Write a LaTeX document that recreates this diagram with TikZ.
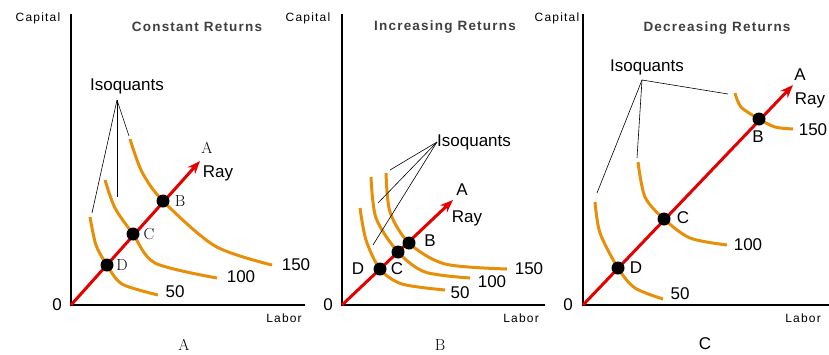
\documentclass[tikz,border=0pt]{standalone}
\usepackage{fontspec}
\setsansfont{Liberation Sans}
\usetikzlibrary{arrows.meta,calc}
\definecolor{IsoClr}{rgb}{0.91,0.56,0.04}
\definecolor{RayClr}{rgb}{0.89,0,0}
\definecolor{TitleClr}{rgb}{0.25,0.25,0.25}

\tikzset{
  axis/.style={line width=2pt,color=black},
  iso/.style={line width=3pt,color=IsoClr,line cap=butt},
  ray/.style={line width=3pt,color=RayClr,-{Stealth[length=13pt,width=10pt]}},
  dot/.style={circle,fill=black,inner sep=0pt,minimum width=13pt,minimum height=12pt},
  lead/.style={line width=0.6pt,color=black},
  lbl/.style={font=\sffamily\fontsize{17}{17}\selectfont,inner sep=0pt},
  ax/.style={font=\sffamily\fontsize{12}{12}\selectfont\addfontfeature{LetterSpace=10},inner sep=0pt},
  ttl/.style={font=\sffamily\bfseries\fontsize{13.5}{13.5}\selectfont\addfontfeature{LetterSpace=9},color=TitleClr,inner sep=0pt},
  pt/.style={font=\fontsize{16}{16}\selectfont,inner sep=0pt}
}

\begin{document}
\begin{tikzpicture}[x=1pt,y=-1pt]
\useasboundingbox[fill=white] (0,0) rectangle (829,354);

% panel A: constant returns
\coordinate (OA) at (71,305);
\draw[axis] (71,14) -- (OA) -- (305,305);
\node[ax] (capA) at (38,18) {Capital};
\node[ax] (labA) at (284,318) {Labor};
\node[lbl] (zeroA) at (57,305) {0};
\node[ttl] (titA) at (197,27) {Constant Returns};
\node[pt] (capnA) at (184,345) {A};

\draw[iso] plot[smooth] coordinates {(90,217) (96,245) (107,265) (122,284) (158,295)};
\draw[iso] plot[smooth] coordinates {(105,180) (115,208) (133,234) (155,263) (217,278)};
\draw[iso] plot[smooth] coordinates {(130,139) (142,172) (163,201) (215,246) (272,265)};
\node[lbl] (n50A) at (175,292) {50};
\node[lbl] (n100A) at (241,277) {100};
\node[lbl] (n150A) at (296,265) {150};

\coordinate (rayA) at (200,161);
\draw[ray] (OA) -- (rayA);
\node[pt] (tipA) at (207,148) {A};
\node[lbl] (rayAl) at (218,173) {Ray};
\node[dot] (DA) at (107,265) {};
\node[dot] (CA) at (133,234) {};
\node[dot] (BA) at (163,201) {};
\node[pt] (lDA) at (122,265) {D};
\node[pt] (lCA) at (149,234) {C};
\node[pt] (lBA) at (180,201) {B};

\node[lbl] (isoA) at (127,86) {Isoquants};
\coordinate (hubA) at (117,100);
\draw[lead] (hubA) -- (92,213);
\draw[lead] (hubA) -- (117,197);
\draw[lead] (hubA) -- (129,136);

% panel B: increasing returns
\coordinate (OB) at (342,305);
\draw[axis] (342,14) -- (OB) -- (545,305);
\node[ax] (capB) at (308,18) {Capital};
\node[ax] (labB) at (521,318) {Labor};
\node[lbl] (zeroB) at (328,305) {0};
\node[ttl] (titB) at (445,27) {Increasing Returns};
\node[pt] (capnB) at (440,345) {B};

\draw[iso] plot[smooth] coordinates {(360,208) (366,240) (380,269) (402,284) (445,290)};
\draw[iso] plot[smooth] coordinates {(371,177) (376,218) (398,252) (425,272) (470,278)};
\draw[iso] plot[smooth] coordinates {(386,173) (390,212) (409,243) (445,264) (507,269)};
\node[lbl] (n50B) at (460,293) {50};
\node[lbl] (n100B) at (492,282) {100};
\node[lbl] (n150B) at (529,269) {150};

\coordinate (rayB) at (453,200);
\draw[ray] (OB) -- (rayB);
\node[lbl] (tipB) at (462,190) {A};
\node[lbl] (rayBl) at (467,218) {Ray};
\node[dot] (DB) at (380,269) {};
\node[dot] (CB) at (398,252) {};
\node[dot] (BB) at (409,243) {};
\node[lbl] (lDB) at (358,269) {D};
\node[lbl] (lCB) at (397,269) {C};
\node[lbl] (lBB) at (430,241) {B};

\node[lbl,anchor=west] (isoB) at (437,142) {Isoquants};
\coordinate (hubB) at (437,142);
\draw[lead] (hubB) -- (390,170);
\draw[lead] (hubB) -- (378,203);
\draw[lead] (hubB) -- (373,245);

% panel C: decreasing returns
\coordinate (OC) at (583,305);
\draw[axis] (583,14) -- (OC) -- (829,305);
\node[ax] (capC) at (557,18) {Capital};
\node[ax] (labC) at (803,318) {Labor};
\node[lbl] (zeroC) at (568,305) {0};
\node[ttl] (titC) at (717,28) {Decreasing Returns};
\node[lbl] (capnC) at (705,344) {C};

\draw[iso] plot[smooth] coordinates {(595,202) (600,233) (618,268) (635,288) (663,299)};
\draw[iso] plot[smooth] coordinates {(638,162) (645,197) (664,219) (690,238) (727,245)};
\draw[iso] plot[smooth] coordinates {(735,93) (741,107) (759,119) (775,127) (793,129)};
\node[lbl] (n50C) at (680,294) {50};
\node[lbl] (n100C) at (748,245) {100};
\node[lbl] (n150C) at (813,130) {150};

\coordinate (rayC) at (793,85);
\draw[ray] (OC) -- (rayC);
\node[lbl] (tipC) at (800,75) {A};
\node[lbl] (rayCl) at (810,100) {Ray};
\node[dot] (DC) at (618,268) {};
\node[dot] (CC) at (664,219) {};
\node[dot] (BC) at (759,119) {};
\node[lbl] (lDC) at (636,268) {D};
\node[lbl] (lCC) at (683,218) {C};
\node[lbl] (lBC) at (758,137) {B};

\node[lbl] (isoC) at (647,67) {Isoquants};
\coordinate (hubC) at (642,80);
\draw[lead] (hubC) -- (597,193);
\draw[lead] (hubC) -- (637,158);
\draw[lead] (hubC) -- (728,94);
\end{tikzpicture}
\end{document}
